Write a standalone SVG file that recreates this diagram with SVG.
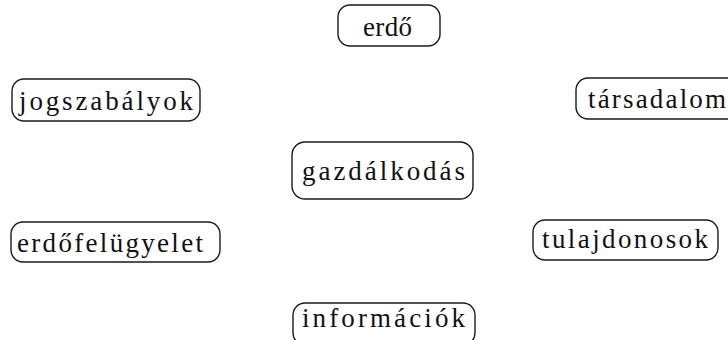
<svg xmlns="http://www.w3.org/2000/svg" width="728" height="340" viewBox="0 0 728 340">
<style>
.b{fill:#fff;stroke:#1a1a1a;stroke-width:1.4}
.t{font-family:"Liberation Serif","Times New Roman",serif;font-size:27px;fill:#111}
</style>
<rect width="728" height="340" fill="#fff"/>
<g id="connectors"></g>
<g id="erdo"><rect class="b" x="338" y="5" width="102" height="41" rx="12"/><text class="t" x="363" y="36" textLength="49" lengthAdjust="spacing">erdő</text></g>
<g id="jogszabalyok"><rect class="b" x="12" y="79" width="188" height="42" rx="12"/><text class="t" x="19" y="110" textLength="174" lengthAdjust="spacing">jogszabályok</text></g>
<g id="tarsadalom"><rect class="b" x="576" y="78" width="165" height="41" rx="12"/><text class="t" x="588" y="108" textLength="138" lengthAdjust="spacing">társadalom</text></g>
<g id="gazdalkodas"><rect class="b" x="292" y="142" width="181" height="57" rx="13"/><text class="t" x="302" y="180" textLength="163" lengthAdjust="spacing">gazdálkodás</text></g>
<g id="erdofelugyelet"><rect class="b" x="11" y="222" width="209" height="40" rx="12"/><text class="t" x="17" y="252" textLength="186" lengthAdjust="spacing">erdőfelügyelet</text></g>
<g id="tulajdonosok"><rect class="b" x="533" y="220" width="185" height="40" rx="12"/><text class="t" x="542" y="248" textLength="166" lengthAdjust="spacing">tulajdonosok</text></g>
<g id="informaciok"><rect class="b" x="293" y="303" width="182" height="42" rx="12"/><text class="t" x="302" y="327" textLength="163" lengthAdjust="spacing">információk</text></g>
</svg>
